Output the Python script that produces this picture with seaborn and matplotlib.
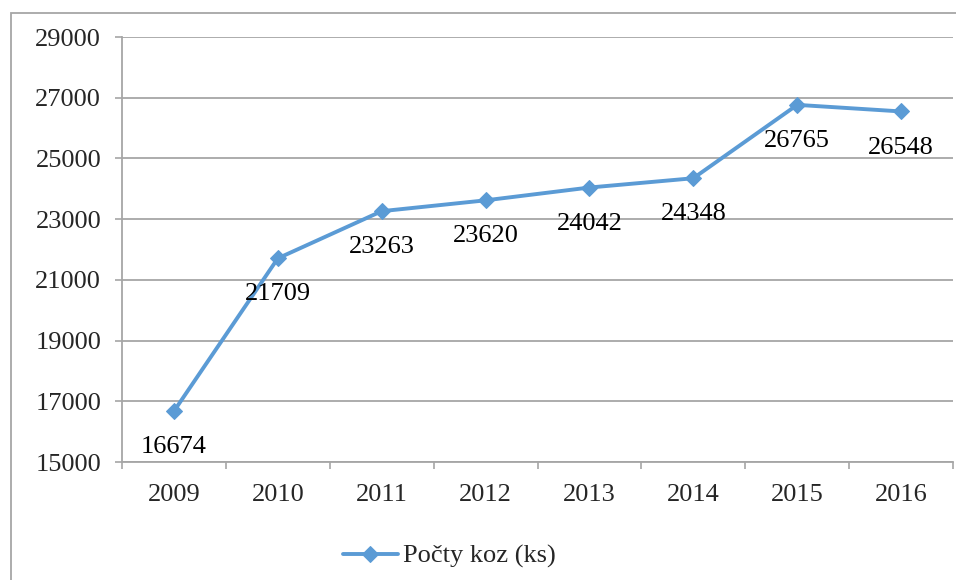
import matplotlib
matplotlib.use("Agg")
import matplotlib.pyplot as plt
import seaborn as sns
import pandas as pd
from matplotlib.patches import Rectangle
from matplotlib.ticker import FixedLocator

years = ["2009", "2010", "2011", "2012", "2013", "2014", "2015", "2016"]
goats = [16674, 21709, 23263, 23620, 24042, 24348, 26765, 26548]
y_ticks = [15000, 17000, 19000, 21000, 23000, 25000, 27000, 29000]
series_name = "Počty koz (ks)"

sns.set_style("white")
plt.rcParams["font.family"] = ["Liberation Serif", "DejaVu Serif"]

df = pd.DataFrame({"year": years, "count": goats})

fig = plt.figure(figsize=(9.56, 5.8), dpi=100)
ax = fig.add_axes([0.1276, 0.2034, 0.8693, 0.7328])

grid_col = "#a6a6a6"
line_col = "#5b9bd5"

sns.lineplot(data=df, x="year", y="count", ax=ax, color=line_col, linewidth=2.8,
             marker="D", markersize=8.5, markeredgecolor=line_col, label=series_name,
             legend=False)

for i, v in enumerate(goats):
    ax.annotate(str(v), (i, v), xytext=(0, -26), textcoords="offset points",
                ha="center", va="center", fontsize=19, color="black")

ax.set_xlim(-0.5, len(years) - 0.5)
ax.set_ylim(15000, 29000)
ax.set_yticks(y_ticks)
ax.set_yticklabels([str(t) for t in y_ticks])
ax.set_xticks(range(len(years)))
ax.set_xticklabels(years)
ax.xaxis.set_minor_locator(FixedLocator([i - 0.5 for i in range(len(years) + 1)]))
ax.tick_params(axis="x", which="major", length=0, pad=16, labelsize=19)
ax.tick_params(axis="x", which="minor", length=5, width=1.2, color=grid_col, direction="out")
ax.tick_params(axis="y", length=5, width=1.2, color=grid_col, pad=10, labelsize=19, direction="out")
ax.tick_params(left=True, bottom=True, which="both")

ax.set_xlabel("")
ax.set_ylabel("")
for t in y_ticks:
    ax.axhline(t, color=grid_col, linewidth=1.3, zorder=0)
for side in ["top", "right"]:
    ax.spines[side].set_visible(False)
ax.spines["left"].set_color(grid_col)
ax.spines["left"].set_linewidth(1.3)
ax.spines["bottom"].set_color(grid_col)
ax.spines["bottom"].set_linewidth(1.3)

handles, labels = ax.get_legend_handles_labels()
fig.legend(handles, labels, loc="center", bbox_to_anchor=(0.47, 0.041),
           frameon=False, fontsize=19, handlelength=2.1, handletextpad=0.2)

fig.patches.append(Rectangle((11 / 956, -0.1), 1.2, 1 - 13 / 580 + 0.1,
                             transform=fig.transFigure, fill=False,
                             edgecolor=grid_col, linewidth=1.3))

fig.savefig("out.png", dpi=100)
